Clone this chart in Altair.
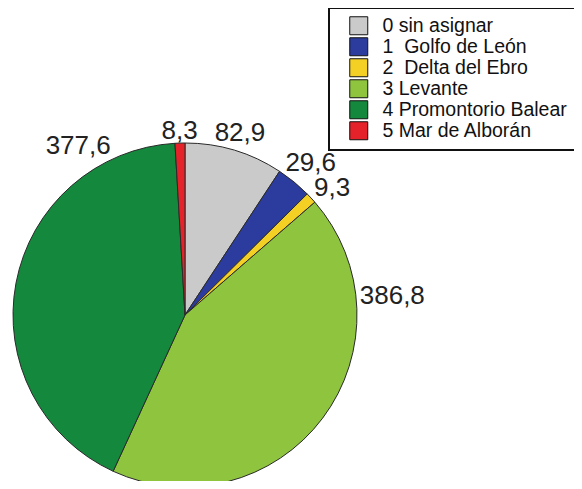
import math
import altair as alt
import pandas as pd

categories = ["0 sin asignar", "1\u00a0 Golfo de León", "2\u00a0 Delta del Ebro", "3 Levante",
              "4 Promontorio Balear", "5 Mar de Alborán"]
values = [82.9, 29.6, 9.3, 386.8, 377.6, 8.3]
labels = ["82,9", "29,6", "9,3", "386,8", "377,6", "8,3"]
colors = ["#cacaca", "#2b3c9e", "#f5d024", "#8fc43f", "#14893d", "#e52229"]
# where along each slice (0 = start, 1 = end) its value label is placed
label_frac = [0.5, 0.5, 1.0, 0.227, 0.81, 0.5]

CX, CY, R = 177, 307, 172
FS = 26

total = sum(values)
rows = []
cum = 0.0
for i, (c, v, lab, f) in enumerate(zip(categories, values, labels, label_frac)):
    a0 = cum / total * 2 * math.pi
    a1 = (cum + v) / total * 2 * math.pi
    cum += v
    th = a0 + f * (a1 - a0)
    n_dig = sum(ch.isdigit() for ch in lab)
    half_w = 0.5 * FS * (0.556 * n_dig + 0.278)
    half_h = 9.5
    r = R + 3 + half_w * abs(math.sin(th)) + half_h * abs(math.cos(th))
    rows.append({"cat": c, "value": v, "idx": i, "label": lab, "lt": th, "lr": r})
df = pd.DataFrame(rows)

color_scale = alt.Scale(domain=categories, range=colors)

pie = alt.Chart(df).mark_arc(outerRadius=R, stroke="#2a2a2a", strokeWidth=1).encode(
    theta=alt.Theta("value:Q", stack=True),
    order=alt.Order("idx:Q", sort="ascending"),
    color=alt.Color(
        "cat:N",
        scale=color_scale,
        sort=categories,
        legend=alt.Legend(
            title=None,
            orient="none",
            legendX=321,
            legendY=0,
            symbolType="square",
            symbolSize=324,
            symbolStrokeColor="#111",
            symbolStrokeWidth=1,
            symbolOffset=12,
            labelOffset=14,
            labelFontSize=19.5,
            labelFont="Liberation Sans",
            labelColor="#111",
            labelLimit=400,
            rowPadding=-2.5,
            padding=8,
            strokeColor="#111",
            fillColor="white",
        ),
    ),
    x=alt.value(CX),
    y=alt.value(CY),
)

text = alt.Chart(df).mark_text(
    fontSize=FS, font="Liberation Sans", color="#222", align="center", baseline="middle"
).encode(
    theta=alt.Theta("lt:Q", scale=None),
    radius=alt.Radius("lr:Q", scale=None),
    text="label:N",
    x=alt.value(CX),
    y=alt.value(CY + 1),
)

chart = alt.layer(pie, text).properties(
    width=566, height=473, autosize=alt.AutoSizeParams(type="none"), padding=0
).configure_view(stroke=None).configure_legend(strokeWidth=2)

chart.save("out.html", embed_options={"renderer": "svg", "actions": False})
